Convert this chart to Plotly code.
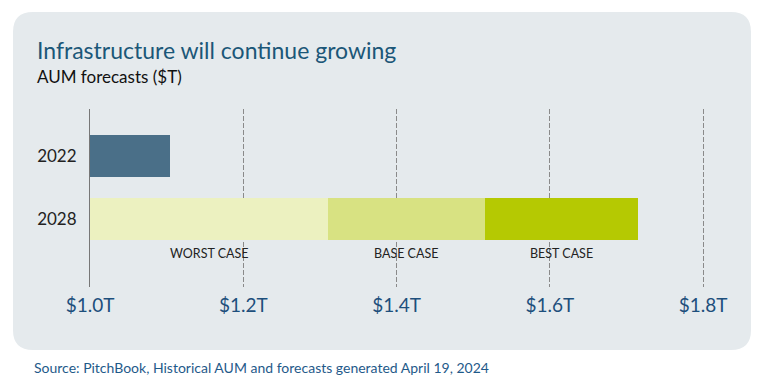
import plotly.graph_objects as go

years = ["2022", "2028"]
aum_2022 = 1.105
axis_start = 1.0
scenario_names = ["WORST CASE", "BASE CASE", "BEST CASE"]
scenario_ends = [1.31, 1.515, 1.715]
scenario_colors = ["#ecf1c0", "#d8e282", "#b5c902"]
tick_vals = [1.0, 1.2, 1.4, 1.6, 1.8]
tick_text = ["$1.0T", "$1.2T", "$1.4T", "$1.6T", "$1.8T"]

fig = go.Figure()
fig.add_trace(go.Bar(
    y=[years[0]], x=[aum_2022 - axis_start], base=[axis_start], orientation="h",
    marker=dict(color="#4a6f88", line=dict(width=0)), width=0.68, showlegend=False,
    hoverinfo="skip"))
starts = [axis_start] + scenario_ends[:-1]
for name, s, e, c in zip(scenario_names, starts, scenario_ends, scenario_colors):
    fig.add_trace(go.Bar(
        y=[years[1]], x=[e - s], base=[s], orientation="h", name=name,
        marker=dict(color=c, line=dict(width=0)), width=0.68, showlegend=False,
        hoverinfo="skip"))

OFF = 8  # page offset of the figure inside the window
W, H = 768 - OFF, 384 - OFF
L, R, T, B = 90 - OFF, 38, 109 - OFF, 97
pw, ph = W - L - R, H - T - B

def px(x):
    return (x - OFF - L) / pw

def py(y):
    return (H - B - (y - OFF)) / ph

# rounded panel
x0, x1 = px(13), px(751)
y0, y1 = py(350), py(12)
rx, ry = 20 / pw, 20 / ph
path = (f"M {x0+rx},{y1} L {x1-rx},{y1} Q {x1},{y1} {x1},{y1-ry} "
        f"L {x1},{y0+ry} Q {x1},{y0} {x1-rx},{y0} L {x0+rx},{y0} "
        f"Q {x0},{y0} {x0},{y0+ry} L {x0},{y1-ry} Q {x0},{y1} {x0+rx},{y1} Z")
fig.add_shape(type="path", path=path, xref="paper", yref="paper",
              fillcolor="#e5eaed", line=dict(width=0), layer="below")

annotations = [
    dict(text="Infrastructure will continue growing", x=px(35), y=py(50),
         xref="paper", yref="paper", xanchor="left", yanchor="middle", showarrow=False,
         font=dict(family="Lato", size=23, color="#1b5778")),
    dict(text="AUM forecasts ($T)", x=px(35), y=py(76),
         xref="paper", yref="paper", xanchor="left", yanchor="middle", showarrow=False,
         font=dict(family="Lato", size=17, color="#111111")),
    dict(text="Source: PitchBook, Historical AUM and forecasts generated April 19, 2024",
         x=px(32), y=py(367), xref="paper", yref="paper", xanchor="left", yanchor="middle",
         showarrow=False, font=dict(family="Lato", size=14, color="#1f5a8a")),
]
for name, s, e in zip(scenario_names, starts, scenario_ends):
    annotations.append(dict(text=name, x=(s + e) / 2, y=py(253), xref="x", yref="paper",
                            xanchor="center", yanchor="middle", showarrow=False,
                            font=dict(family="Lato", size=12.5, color="#222222")))

fig.update_layout(
    width=W, height=H, margin=dict(l=L, r=R, t=T, b=B),
    paper_bgcolor="white", plot_bgcolor="rgba(0,0,0,0)",
    barmode="overlay", bargap=0, annotations=annotations,
    xaxis=dict(range=[axis_start, axis_start + pw / 766.5], tickmode="array",
               tickvals=tick_vals, ticktext=tick_text,
               showgrid=True, gridcolor="#8a8a8a", griddash="5px,2px", gridwidth=1,
               zeroline=False, showline=False, ticks="", ticklabelstandoff=5,
               tickfont=dict(family="Lato", size=19, color="#1d4f7c"), fixedrange=True),
    yaxis=dict(type="category", categoryarray=years, range=[2.079, -0.746],
               showgrid=False, zeroline=False, showline=True, linecolor="#777777",
               linewidth=1, ticks="", ticklabelstandoff=9,
               tickfont=dict(family="Lato", size=17, color="#222222"), fixedrange=True),
)

fig.write_html("out.html")
